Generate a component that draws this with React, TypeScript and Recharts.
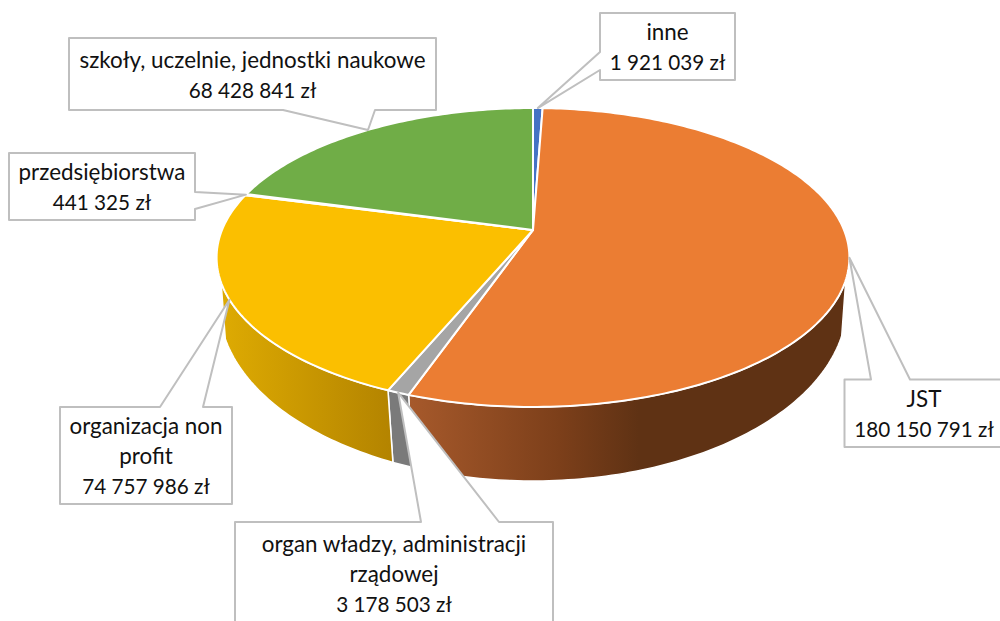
import { PieChart, Pie } from 'recharts'

const categories = ['inne', 'JST', 'organ władzy, administracji rządowej', 'organizacja non profit', 'przedsiębiorstwa', 'szkoły, uczelnie, jednostki naukowe']
const values = [1921039, 180150791, 3178503, 74757986, 441325, 68428841]
const topColors = ['#4472C4', '#EB7D33', '#A5A5A5', '#FBBF00', '#5B9BD5', '#70AD47']
const wallColors = [null, 'url(#wallOrange)', '#7A7A7A', 'url(#wallYellow)', null, null]
const nameLines = [['inne'], ['JST'], ['organ władzy, administracji', 'rządowej'], ['organizacja non', 'profit'], ['przedsiębiorstwa'], ['szkoły, uczelnie, jednostki naukowe']]

// callout boxes: where the leader leaves the box is given by side + a/b
const boxes = [
  { x: 600, y: 13, w: 135, h: 67, side: 'left', a: 52, b: 70, base: 40 },
  { x: 844.5, y: 379.5, w: 159, h: 67.5, side: 'top', a: 871, b: 910, base: 407 },
  { x: 235, y: 522, w: 318, h: 110, side: 'top', a: 421, b: 499, base: 552 },
  { x: 60, y: 407, w: 172, h: 97, side: 'top', a: 160, b: 203, base: 434 },
  { x: 9, y: 153, w: 186, h: 67, side: 'right', a: 192, b: 209, base: 180 },
  { x: 69, y: 38, w: 367, h: 72, side: 'bottom', a: 283, b: 375, base: 68 },
]

const chartData = categories.map((name, i) => ({ name, value: values[i], fill: topColors[i], wall: wallColors[i] }))

// fitted by eye to the tilted disc in the picture
const TOP = { persp: 0.184, sx: 1, sy: 0.4643, drop: 0 }
const BASE = { persp: 0.155, sx: 0.997, sy: 0.5553, drop: 46.6 }
const WALL_FROM = -19
const WALL_TO = -160

// recharts angle -> point on the tilted disc
const project = (cx: number, cy: number, r: number, angle: number, plane = TOP) => {
  const rad = (angle * Math.PI) / 180
  const u = Math.cos(rad)
  const v = -Math.sin(rad)
  const w = 1 - plane.persp * v
  return [cx + (r * plane.sx * u) / w, cy + plane.drop + (r * plane.sy * v) / w]
}

const arcPoints = (cx: number, cy: number, r: number, from: number, to: number, plane = TOP) => {
  const n = Math.max(2, Math.ceil(Math.abs(to - from)))
  const pts = []
  for (let i = 0; i <= n; i++) pts.push(project(cx, cy, r, from + ((to - from) * i) / n, plane))
  return pts
}

const toPath = (pts: number[][]) => pts.map((p, i) => `${i ? 'L' : 'M'}${p[0].toFixed(2)} ${p[1].toFixed(2)}`).join(' ')

function Slice(props: any) {
  const { cx, cy, outerRadius, startAngle, endAngle, fill, payload } = props
  const top = toPath([[cx, cy], ...arcPoints(cx, cy, outerRadius, startAngle, endAngle)]) + ' Z'
  let wall = null
  if (payload.wall) {
    // only the front of the rim shows
    const from = Math.min(startAngle, WALL_FROM)
    const to = Math.max(endAngle, WALL_TO)
    wall = toPath([...arcPoints(cx, cy, outerRadius, from, to), ...arcPoints(cx, cy, outerRadius, to, from, BASE)]) + ' Z'
  }
  return (
    <g>
      {wall && <path d={wall} fill={payload.wall} stroke="#fff" strokeWidth={1.5} strokeLinejoin="round" />}
      <path d={top} fill={fill} stroke="#fff" strokeWidth={2} strokeLinejoin="round" />
    </g>
  )
}

const formatValue = (v: number) => String(v).replace(/\B(?=(\d{3})+$)/g, ' ') + ' zł'

function Callout(props: any) {
  const { cx, cy, outerRadius, midAngle, index, value } = props
  const b = boxes[index]
  const tip = project(cx, cy, outerRadius, midAngle)
  const r = b.x + b.w
  const d = b.y + b.h
  let pts: number[][] = []
  if (b.side === 'top') pts = [[b.x, b.y], [b.a, b.y], tip, [b.b, b.y], [r, b.y], [r, d], [b.x, d]]
  if (b.side === 'bottom') pts = [[b.x, b.y], [r, b.y], [r, d], [b.b, d], tip, [b.a, d], [b.x, d]]
  if (b.side === 'left') pts = [[b.x, b.y], [r, b.y], [r, d], [b.x, d], [b.x, b.b], tip, [b.x, b.a]]
  if (b.side === 'right') pts = [[b.x, b.y], [r, b.y], [r, b.a], tip, [r, b.b], [r, d], [b.x, d]]
  const names = nameLines[index]
  const textProps = { x: b.x + b.w / 2, textAnchor: 'middle' as const, fontFamily: 'Lato', fill: '#111' }
  return (
    <g>
      <path d={toPath(pts) + ' Z'} fill="#fff" stroke="#BFBFBF" strokeWidth={2} strokeLinejoin="round" />
      {names.map((t, i) => (
        <text key={i} {...textProps} y={b.base + i * 30} fontSize={22.4}>
          {t}
        </text>
      ))}
      <text {...textProps} y={b.base + names.length * 30} fontSize={20.7}>
        {formatValue(value)}
      </text>
    </g>
  )
}

export default function App() {
  return (
    <div style={{ position: 'absolute', left: 0, top: 0, width: 1000, height: 621, overflow: 'hidden', background: '#fff' }}>
      <PieChart width={1000} height={621} margin={{ top: 0, right: 0, bottom: 0, left: 0 }}>
        <defs>
          <linearGradient id="wallOrange" gradientUnits="userSpaceOnUse" x1="410" y1="0" x2="850" y2="0">
            <stop offset="0" stopColor="#A6592B" />
            <stop offset="0.34" stopColor="#7C3F1A" />
            <stop offset="0.52" stopColor="#5F3214" />
            <stop offset="1" stopColor="#5F3214" />
          </linearGradient>
          <linearGradient id="wallYellow" gradientUnits="userSpaceOnUse" x1="224" y1="0" x2="390" y2="0">
            <stop offset="0" stopColor="#DDAA02" />
            <stop offset="1" stopColor="#B48400" />
          </linearGradient>
        </defs>
        <Pie
          data={chartData}
          dataKey="value"
          nameKey="name"
          cx={533}
          cy={230}
          outerRadius={311}
          startAngle={90}
          endAngle={-270}
          isAnimationActive={false}
          shape={Slice}
          label={Callout}
          labelLine={false}
        />
      </PieChart>
    </div>
  )
}
